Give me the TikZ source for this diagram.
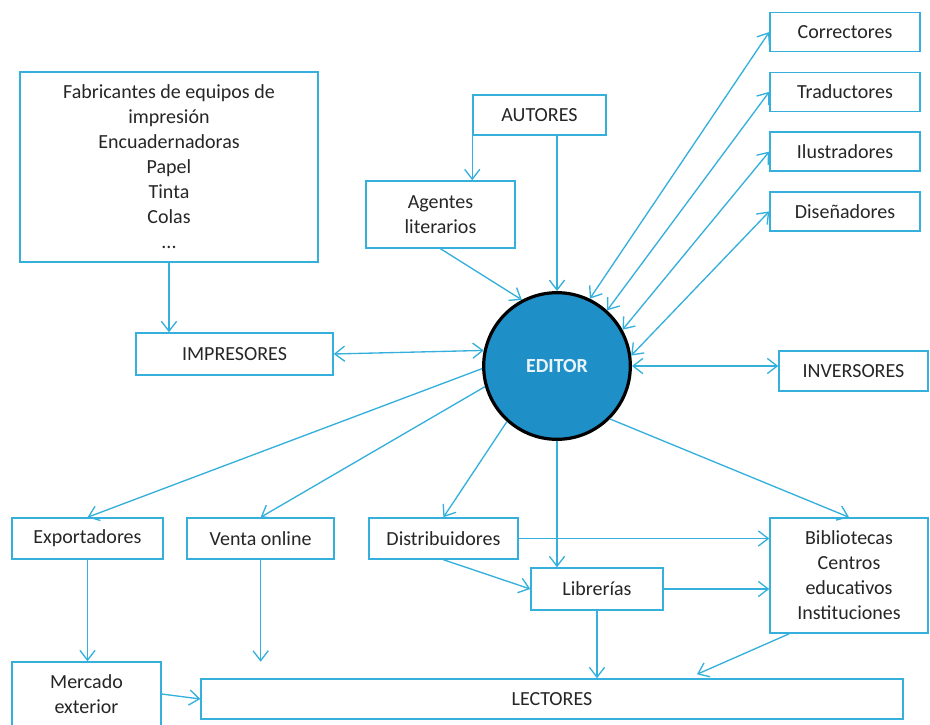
\documentclass[tikz,border=0pt]{standalone}
\usepackage{fontspec}
\setmainfont{Carlito}
\usepackage{xcolor}
\usepackage{tikz}
\usetikzlibrary{positioning,arrows.meta,calc}
\definecolor{lineblue}{HTML}{35AFDB}
\definecolor{hubblue}{HTML}{1F8FC8}
\definecolor{txtgray}{HTML}{262626}

\begin{document}
\begin{tikzpicture}[x=0.75pt, y=-0.75pt,
  box/.style={draw=lineblue, line width=1.1pt, fill=white, inner sep=2pt,
              align=center, text=txtgray,
              font=\fontsize{15}{18.75}\selectfont},
  side/.style={box, minimum width=112.5pt, minimum height=29.25pt},
  row/.style={box, minimum height=30.75pt},
  hub/.style={circle, draw=black, line width=2.4pt, fill=hubblue,
              minimum size=110pt, text=white!90!hubblue,
              font=\fontsize{15}{18}\selectfont\bfseries},
  arr/.style={draw=lineblue, line width=1pt,
              -{Straight Barb[length=2.6mm,width=4mm]}},
  darr/.style={arr, {Straight Barb[length=2.6mm,width=4mm]}-{Straight Barb[length=2.6mm,width=4mm]}},
]
  \useasboundingbox (0,0) rectangle (930,724);

  % suppliers and authors
  \node[box, minimum width=223.5pt, minimum height=142.5pt] (fab) at (169,167)
    {Fabricantes de equipos de\\impresión\\Encuadernadoras\\Papel\\Tinta\\Colas\\...};
  \node[box, minimum width=99.75pt, minimum height=30pt] (autores) at (539.5,115) {AUTORES};
  \node[box, minimum width=111.75pt, minimum height=50.25pt] (agentes) at (440.5,214.5)
    {Agentes\\literarios};
  \node[box, minimum width=147.75pt, minimum height=31.5pt] (impresores) at (234.5,354) {IMPRESORES};
  \node[hub] (editor) at (557,366) {EDITOR};

  % services on the right
  \node[side] (correct) at (845,32) {Correctores};
  \node[side, below=14.5pt of correct] (traduct) {Traductores};
  \node[side, below=14.5pt of traduct] (ilustr) {Ilustradores};
  \node[side, below=14.5pt of ilustr] (disen) {Diseñadores};
  \node[box, minimum width=111.75pt, minimum height=30pt] (inversores) at (853.5,371) {INVERSORES};

  % sales channels
  \node[row, minimum width=113.25pt] (export) at (87.5,538.5) {Exportadores};
  \node[row, minimum width=110.25pt, right=17pt of export] (venta) {Venta online};
  \node[row, minimum width=111.75pt, right=25pt of venta] (distrib) {Distribuidores};
  \node[box, minimum width=99pt, minimum height=31.5pt] (librerias) at (597,589) {Librerías};
  \node[box, minimum width=118.5pt, minimum height=86.25pt] (biblio) at (849,575.5)
    {Bibliotecas\\Centros\\educativos\\Instituciones};
  \node[box, minimum width=111.75pt, minimum height=48pt] (mercado) at (86.5,694)
    {Mercado\\exterior};
  \node[box, minimum width=526.5pt, minimum height=30pt] (lectores) at (552,699) {LECTORES};

  \coordinate (ventatip) at ($(venta.south)+(0,102)$);
  \coordinate (bibliotip) at ($(lectores.north)+(145,-4)$);

  \draw[arr] (autores.south west) -- (autores.south west |- agentes.north);
  \draw[arr] (editor.north |- autores.south) -- (editor.north);
  \draw[arr] (agentes.south) -- (editor.118);
  \draw[arr] (fab.south) -- (fab.south |- impresores.north);
  \draw[darr] (impresores.east) -- (editor.168);

  \draw[darr] (editor.64) -- (correct.west);
  \draw[darr] (editor.48) -- (traduct.west);
  \draw[darr] (editor.29) -- (ilustr.west);
  \draw[darr] (editor.8) -- (disen.west);
  \draw[darr] (editor.east) -- (editor.east -| inversores.west);

  \draw[arr] (editor.182) -- (export.north);
  \draw[arr] (editor.196) -- (venta.north);
  \draw[arr] (editor.228) -- (distrib.north);
  \draw[arr] (editor.south) -- (editor.south |- librerias.north);
  \draw[arr] (editor.315) -- (biblio.north);

  \draw[arr] (distrib.east) -- (distrib.east -| biblio.west);
  \draw[arr] (distrib.south) -- (librerias.west);
  \draw[arr] (librerias.east) -- (librerias.east -| biblio.west);

  \draw[arr] (export.south) -- (export.south |- mercado.north);
  \draw[arr] (venta.south) -- (ventatip);
  \draw[arr] (mercado.east) -- (lectores.west);
  \draw[arr] (librerias.south) -- (librerias.south |- lectores.north);
  \draw[arr] ($(biblio.south west)+(20,0)$) -- (bibliotip);
\end{tikzpicture}
\end{document}
